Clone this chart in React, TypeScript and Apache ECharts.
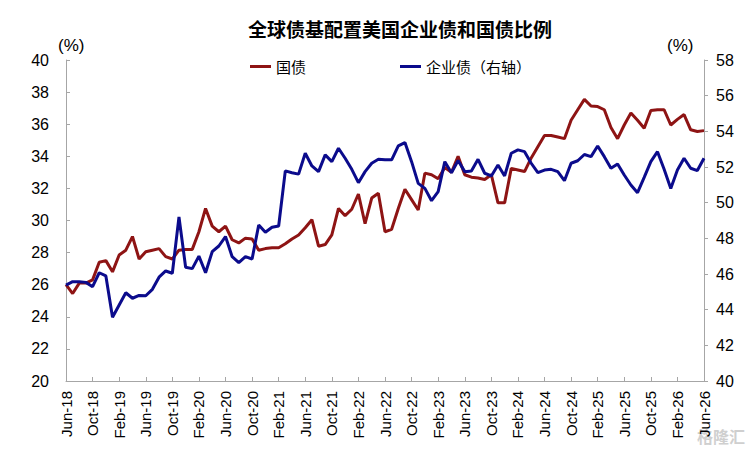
import React, { useEffect, useRef } from "react";
import * as echarts from "echarts";

const TITLE = "全球债基配置美国企业债和国债比例";
const SERIES_NAMES = ["国债", "企业债（右轴）"];
const MONTH_NAMES = ["Jan", "Feb", "Mar", "Apr", "May", "Jun", "Jul", "Aug", "Sep", "Oct", "Nov", "Dec"];
const START_YEAR = 2018;
const START_MONTH = 5; // Jun
const MONTH_COUNT = 97; // Jun-18 .. Jun-26

const categories: string[] = [];
for (let i = 0; i < MONTH_COUNT; i++) {
  const m = (START_MONTH + i) % 12;
  const y = START_YEAR + Math.floor((START_MONTH + i) / 12);
  categories.push(`${MONTH_NAMES[m]}-${String(y % 100).padStart(2, "0")}`);
}

// 国债 (left axis, %)
const treasury = [
  26.0, 25.45, 26.1, 26.1, 26.3, 27.4, 27.5, 26.8, 27.85, 28.15,
  29.0, 27.6, 28.05, 28.15, 28.25, 27.75, 27.6, 28.15, 28.2, 28.2,
  29.3, 30.75, 29.65, 29.3, 29.65, 28.8, 28.6, 28.9, 28.85, 28.15,
  28.25, 28.3, 28.3, 28.55, 28.85, 29.1, 29.55, 30.05, 28.4, 28.5,
  29.1, 30.75, 30.3, 30.7, 31.65, 29.8, 31.4, 31.7, 29.3, 29.45,
  30.75, 31.95, 31.3, 30.65, 32.95, 32.85, 32.6, 33.3, 33.0, 34.0,
  32.85, 32.7, 32.65, 32.55, 32.85, 31.1, 31.1, 33.25, 33.15, 33.05,
  33.9, 34.6, 35.3, 35.3, 35.2, 35.1, 36.25, 36.9, 37.55, 37.13,
  37.1, 36.9, 35.8, 35.1, 35.95, 36.7, 36.25, 35.75, 36.85, 36.9,
  36.9, 35.95, 36.3, 36.6, 35.65, 35.55, 35.6,
];

// 企业债 (right axis, %)
const corporate = [
  45.38, 45.57, 45.57, 45.53, 45.29, 46.07, 45.89, 43.57, 44.26, 44.95,
  44.64, 44.8, 44.78, 45.14, 45.82, 46.17, 46.04, 49.2, 46.38, 46.3,
  47.0, 46.07, 47.25, 47.57, 48.1, 46.97, 46.64, 46.97, 46.84, 48.75,
  48.34, 48.62, 48.69, 51.78, 51.68, 51.6, 52.77, 52.06, 51.74, 52.68,
  52.3, 53.05, 52.49, 51.87, 51.12, 51.74, 52.21, 52.43, 52.4, 52.4,
  53.18, 53.37, 52.3, 51.08, 50.8, 50.11, 50.62, 52.3, 51.68, 52.36,
  51.74, 51.78, 52.43, 51.65, 51.5, 52.11, 51.5, 52.77, 52.96, 52.86,
  52.21, 51.68, 51.83, 51.87, 51.74, 51.23, 52.21, 52.35, 52.7, 52.58,
  53.18, 52.58, 51.93, 52.17, 51.55, 50.99, 50.56, 51.42, 52.3, 52.86,
  51.87, 50.8, 51.83, 52.49, 51.93, 51.8, 52.49,
];

const RED = "#8e1414";
const BLUE = "#0b0b8c";
const AXIS_GRAY = "#a6a6a6";
const NUM_FONT = "'Liberation Sans', Arial, sans-serif";
const CJK_FONT = "'Noto Sans CJK SC', sans-serif";

export default function App() {
  const ref = useRef<HTMLDivElement>(null);
  useEffect(() => {
    if (!ref.current) return;
    const chart = echarts.init(ref.current, null, { renderer: "svg" });
    chart.setOption({
      animation: false,
      backgroundColor: "#ffffff",
      title: {
        text: TITLE,
        left: 243,
        top: 14,
        textStyle: { fontSize: 19, fontWeight: "bold", color: "#000", fontFamily: CJK_FONT },
      },
      legend: {
        data: [
          { name: SERIES_NAMES[0], icon: "rect" },
          { name: SERIES_NAMES[1], icon: "rect" },
        ],
        left: 245,
        top: 54,
        itemWidth: 21,
        itemHeight: 3,
        itemGap: 94,
        textStyle: { fontSize: 15, color: "#000", fontFamily: CJK_FONT },
      },
      graphic: [
        { type: "text", left: 58, top: 37, style: { text: "(%)", fill: "#000", font: `17px ${NUM_FONT}` } },
        { type: "text", left: 667, top: 37, style: { text: "(%)", fill: "#000", font: `17px ${NUM_FONT}` } },
        { type: "text", right: 8, bottom: 8, style: { text: "格隆汇", fill: "#cfcfcf", font: `bold 16px ${CJK_FONT}` } },
      ],
      grid: { left: 66, right: 49, top: 60, bottom: 71, containLabel: false },
      xAxis: {
        type: "category",
        data: categories,
        boundaryGap: false,
        axisLine: { lineStyle: { color: AXIS_GRAY, width: 1 } },
        axisTick: { inside: true, length: 4, interval: 3, lineStyle: { color: AXIS_GRAY } },
        axisLabel: { interval: 3, rotate: 90, fontSize: 15, color: "#000", margin: 10, fontFamily: NUM_FONT },
        splitLine: { show: false },
      },
      yAxis: [
        {
          type: "value",
          min: 20,
          max: 40,
          interval: 2,
          position: "left",
          axisLine: { show: true, lineStyle: { color: AXIS_GRAY } },
          axisTick: { show: true, inside: true, length: 4, lineStyle: { color: AXIS_GRAY } },
          axisLabel: { fontSize: 16, color: "#000", margin: 17, fontFamily: NUM_FONT },
          splitLine: { show: false },
        },
        {
          type: "value",
          min: 40,
          max: 58,
          interval: 2,
          position: "right",
          axisLine: { show: true, lineStyle: { color: AXIS_GRAY } },
          axisTick: { show: true, inside: false, length: 4, lineStyle: { color: AXIS_GRAY } },
          axisLabel: { fontSize: 16, color: "#000", margin: 12, fontFamily: NUM_FONT },
          splitLine: { show: false },
        },
      ],
      series: [
        {
          name: SERIES_NAMES[0],
          type: "line",
          yAxisIndex: 0,
          data: treasury,
          symbol: "none",
          lineStyle: { color: RED, width: 3 },
          itemStyle: { color: RED },
        },
        {
          name: SERIES_NAMES[1],
          type: "line",
          yAxisIndex: 1,
          data: corporate,
          symbol: "none",
          lineStyle: { color: BLUE, width: 3 },
          itemStyle: { color: BLUE },
        },
      ],
    });
    return () => chart.dispose();
  }, []);
  return <div ref={ref} style={{ position: "fixed", left: 0, top: 0, width: 753, height: 452 }} />;
}
